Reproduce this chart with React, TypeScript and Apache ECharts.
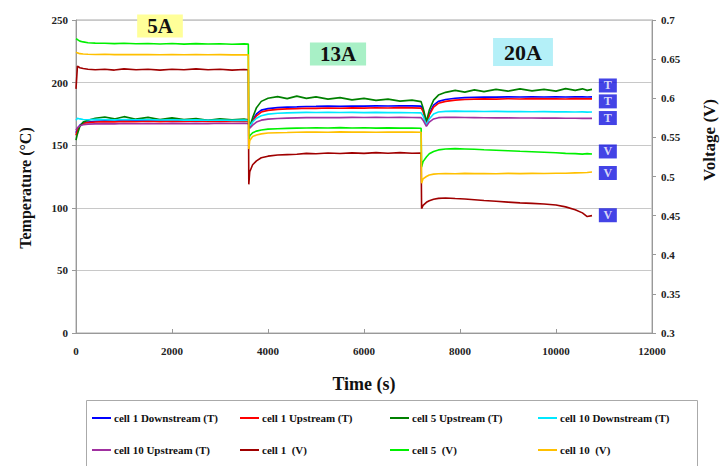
import React, { useEffect, useRef } from "react";
import * as echarts from "echarts";

// ---------- data ----------
const timeS = [
  0, 30, 80, 150, 250, 400, 600, 800, 1000, 1250,
  1500, 1750, 2000, 2250, 2500, 2750, 3000, 3250, 3500, 3590,
  3600, 3620, 3680, 3760, 3860, 4000, 4200, 4400, 4600, 4800,
  5000, 5250, 5500, 5750, 6000, 6250, 6500, 6750, 7000, 7190,
  7200, 7230, 7300, 7360, 7450, 7550, 7700, 7900, 8100, 8300,
  8500, 8750, 9000, 9250, 9500, 9750, 10000, 10200, 10400, 10550,
  10650, 10750,
];

const cell1DownT = [
  160, 163, 166, 168, 168.5, 169, 169.5, 169.2, 169.8, 169.4,
  169.9, 169.5, 170, 169.6, 170, 169.7, 170.1, 169.8, 170, 169.8,
  168, 164.5, 170, 175, 178, 179.2, 180, 180.4, 180.6, 180.9,
  181, 181.2, 181, 181.3, 181.2, 181.4, 181.3, 181.5, 181.4, 181.2,
  180.5, 178.5, 167, 175, 182, 185, 186.5, 187.5, 188, 188.3,
  188.5, 188.4, 188.6, 188.5, 188.7, 188.5, 188.6, 188.5, 188.7, 188.6,
  188.5, 188.6,
];

const cell1UpT = [
  158, 162, 165.5, 167.5, 168, 168.5, 168.8, 168.6, 169, 168.7,
  169.1, 168.8, 169.2, 168.9, 169.3, 169, 169.2, 168.9, 169.2, 169,
  167.5, 164, 169, 173.5, 176.5, 177.8, 178.6, 179, 179.2, 179.5,
  179.4, 179.7, 179.5, 179.8, 179.6, 179.9, 179.7, 180, 179.8, 179.6,
  179, 177, 166.5, 174, 180.5, 183.5, 185, 186, 186.5, 186.8,
  187, 186.8, 187.1, 186.9, 187.2, 187, 187.1, 186.9, 187.2, 187,
  187.1, 187,
];

const cell5UpT = [
  154, 159, 165, 168.5, 170, 171.5, 172.5, 171, 172.8, 170.8,
  172.2, 170.5, 171.8, 170.4, 171.3, 169.8, 171, 170.2, 170.8, 170.2,
  168.5, 165, 172, 180, 185, 187.5, 188.8, 187.2, 189.2, 187.4,
  188.6, 186.8, 188, 186.2, 187.4, 185.8, 186.8, 185.2, 186, 184.8,
  183.5, 180, 169, 178, 186, 190, 192.2, 193.8, 192.4, 194.2,
  192.8, 194.6, 193.2, 195, 193.4, 194.6, 193.2, 195.2, 193.8, 195,
  193.8, 194.6,
];

const cell10DownT = [
  170, 171.5, 171, 170.5, 170.3, 170.6, 170.4, 170.2, 170.5, 170.3,
  170.4, 170.1, 170.3, 170, 170.2, 169.9, 170.1, 169.8, 170, 169.8,
  168, 165, 168.5, 171.5, 173.5, 174.8, 175.5, 175.8, 176, 176.2,
  176.1, 176.3, 176.1, 176.2, 176, 176.2, 176, 176.1, 175.9, 175.8,
  175.2, 173.5, 166, 171, 175, 176.5, 177, 177.2, 177, 177.1,
  176.9, 177, 176.8, 176.9, 176.7, 176.8, 176.6, 176.7, 176.5, 176.6,
  176.4, 176.5,
];

const cell10UpT = [
  162, 164, 165.5, 166.3, 166.8, 167, 167.2, 167, 167.3, 167.1,
  167.3, 167.1, 167.4, 167.2, 167.4, 167.2, 167.5, 167.3, 167.5, 167.3,
  166, 163.5, 166, 168.5, 170, 170.8, 171.3, 171.6, 171.8, 172,
  172, 172.1, 172, 172.2, 172.1, 172.2, 172.1, 172.2, 172.1, 172,
  171.5, 170, 165, 168.5, 171, 172, 172.3, 172.2, 172.1, 172,
  171.9, 171.8, 171.8, 171.7, 171.7, 171.6, 171.6, 171.5, 171.5, 171.4,
  171.4, 171.4,
];

const cell1V = [
  0.612, 0.641, 0.639, 0.638, 0.637, 0.6365, 0.637, 0.636, 0.6375, 0.6365,
  0.637, 0.636, 0.637, 0.6365, 0.6375, 0.6365, 0.637, 0.636, 0.6368, 0.6365,
  0.49, 0.506, 0.515, 0.52, 0.524, 0.526, 0.5275, 0.528, 0.5285, 0.5295,
  0.529, 0.53, 0.5293, 0.5302, 0.5295, 0.5305, 0.5297, 0.5305, 0.5298, 0.53,
  0.459, 0.463, 0.467, 0.469, 0.471, 0.472, 0.4725, 0.4718, 0.4712, 0.4703,
  0.4693, 0.4683, 0.4673, 0.4663, 0.4657, 0.4648, 0.4636, 0.4612, 0.4575, 0.4535,
  0.4488, 0.45,
];

const cell5V = [
  0.676, 0.675, 0.673, 0.672, 0.671, 0.6705, 0.6702, 0.6698, 0.6703, 0.6696,
  0.67, 0.6694, 0.6699, 0.6692, 0.6698, 0.6693, 0.6697, 0.669, 0.6695, 0.6692,
  0.547, 0.552, 0.556, 0.558, 0.5595, 0.5605, 0.561, 0.5615, 0.5618, 0.562,
  0.5622, 0.562, 0.5625, 0.562, 0.5623, 0.5618, 0.5622, 0.5618, 0.562, 0.5617,
  0.512, 0.519, 0.525, 0.529, 0.532, 0.534, 0.5352, 0.5356, 0.5352, 0.5348,
  0.5342, 0.5336, 0.533, 0.5322, 0.5316, 0.531, 0.5303, 0.5296, 0.5292, 0.5286,
  0.5292, 0.5288,
];

const cell10V = [
  0.659, 0.658, 0.657, 0.6565, 0.6562, 0.656, 0.6562, 0.6558, 0.656, 0.6557,
  0.656, 0.6556, 0.6559, 0.6555, 0.6558, 0.6555, 0.6557, 0.6554, 0.6556, 0.6554,
  0.535, 0.546, 0.551, 0.553, 0.5545, 0.5555, 0.556, 0.5562, 0.5565, 0.5567,
  0.5568, 0.5566, 0.557, 0.5567, 0.5569, 0.5566, 0.5569, 0.5567, 0.5568, 0.5566,
  0.4915, 0.497, 0.5, 0.502, 0.503, 0.5035, 0.5038, 0.5036, 0.504, 0.5037,
  0.5039, 0.5036, 0.504, 0.5037, 0.504, 0.5038, 0.5042, 0.5042, 0.5046, 0.5048,
  0.5052, 0.5058,
];

const markerX = 11080;
const markerT = [197.7, 185, 171.7];
const markerV = [0.532, 0.5045, 0.4505];

const currentLabels = ["5A", "13A", "20A"];

const SERIF = "'Liberation Serif', 'Times New Roman', serif";

const seriesDefs = [
  { name: "cell 1 Downstream (T)", data: cell1DownT, color: "#0000ff", axis: 0 },
  { name: "cell 1 Upstream (T)", data: cell1UpT, color: "#ff0000", axis: 0 },
  { name: "cell 5 Upstream (T)", data: cell5UpT, color: "#008000", axis: 0 },
  { name: "cell 10 Downstream (T)", data: cell10DownT, color: "#00e8ff", axis: 0 },
  { name: "cell 10 Upstream (T)", data: cell10UpT, color: "#a030a0", axis: 0 },
  { name: "cell 1  (V)", data: cell1V, color: "#a00000", axis: 1 },
  { name: "cell 5  (V)", data: cell5V, color: "#00f000", axis: 1 },
  { name: "cell 10  (V)", data: cell10V, color: "#ffc000", axis: 1 },
];

export default function App() {
  const ref = useRef<HTMLDivElement>(null);

  useEffect(() => {
    const chart = echarts.init(ref.current!, null, { renderer: "svg" });

    const lineSeries = seriesDefs.map((s) => ({
      name: s.name,
      type: "line",
      yAxisIndex: s.axis,
      symbol: "none",
      data: timeS.map((t, i) => [t, s.data[i]]),
      lineStyle: { color: s.color, width: 1.6 },
      itemStyle: { color: s.color },
      z: 2,
    }));

    const markerStyle = (letter: string) => ({
      type: "scatter",
      symbol: "rect",
      symbolSize: [18, 14],
      itemStyle: { color: "#1414e0" },
      label: {
        show: true,
        position: "inside",
        formatter: letter,
        color: "#ffffff",
        fontFamily: SERIF,
        fontWeight: "bold",
        fontSize: 12,
      },
      silent: true,
      z: 5,
    });

    const col = (i: number) => [seriesDefs[i].name, seriesDefs[i + 4].name];
    const legendCols = [92, 240, 390, 538].map((x, i) => ({
      orient: "vertical",
      left: x,
      top: 411,
      padding: 0,
      itemGap: 18,
      itemWidth: 19,
      itemHeight: 2,
      icon: "rect",
      data: col(i),
      textStyle: {
        fontFamily: SERIF,
        fontWeight: "bold",
        fontSize: 11,
        color: "#111",
        lineHeight: 14,
        padding: [0, 0, 0, -2],
      },
    }));

    const axisLabelStyle = {
      fontFamily: SERIF,
      fontWeight: "bold",
      fontSize: 11,
      color: "#222",
    };

    const boxText = (
      text: string,
      x: number,
      y: number,
      bg: string,
      size: number,
      pad: number[]
    ) => ({
      type: "text",
      x,
      y,
      z: 10,
      style: {
        text,
        fill: "#111",
        font: `bold ${size}px ${SERIF}`,
        backgroundColor: bg,
        padding: pad,
        align: "center",
        verticalAlign: "middle",
      },
    });

    chart.setOption({
      animation: false,
      textStyle: { fontFamily: SERIF },
      grid: {
        left: 76,
        right: 68,
        top: 20,
        bottom: 133,
        show: true,
        borderColor: "#a8a8a8",
        borderWidth: 1,
      },
      legend: legendCols,
      xAxis: {
        type: "value",
        min: 0,
        max: 12000,
        interval: 2000,
        axisLine: { show: true, lineStyle: { color: "#999" } },
        axisTick: { show: true, inside: true, length: 4, lineStyle: { color: "#999" } },
        axisLabel: { ...axisLabelStyle, margin: 12, formatter: (v: number) => String(v) },
        splitLine: { show: false },
        name: "Time (s)",
        nameLocation: "middle",
        nameGap: 42,
        nameTextStyle: { fontFamily: SERIF, fontWeight: "bold", fontSize: 18, color: "#111" },
      },
      yAxis: [
        {
          type: "value",
          min: 0,
          max: 250,
          interval: 50,
          position: "left",
          axisLine: { show: true, lineStyle: { color: "#999" } },
          axisTick: { show: true, length: 4, lineStyle: { color: "#999" } },
          axisLabel: { ...axisLabelStyle, margin: 8 },
          splitLine: { show: true, lineStyle: { color: "#c8c8c8", width: 1 } },
        },
        {
          type: "value",
          min: 0.3,
          max: 0.7,
          interval: 0.05,
          position: "right",
          axisLine: { show: true, lineStyle: { color: "#999" } },
          axisTick: { show: true, length: 4, lineStyle: { color: "#999" } },
          axisLabel: {
            ...axisLabelStyle,
            margin: 9,
            formatter: (v: number) => String(+v.toFixed(2)),
          },
          splitLine: { show: false },
        },
      ],
      series: [
        ...lineSeries,
        { ...markerStyle("T"), name: "markerT", yAxisIndex: 0, data: markerT.map((v) => [markerX, v]) },
        { ...markerStyle("V"), name: "markerV", yAxisIndex: 1, data: markerV.map((v) => [markerX, v]) },
      ],
      graphic: [
        {
          type: "text",
          x: 25,
          y: 188,
          rotation: Math.PI / 2,
          style: {
            text: "Temperature (°C)",
            font: `bold 16px ${SERIF}`,
            fill: "#111",
            align: "center",
            verticalAlign: "middle",
          },
        },
        {
          type: "text",
          x: 709,
          y: 140,
          rotation: Math.PI / 2,
          style: {
            text: "Voltage (V)",
            font: `bold 17px ${SERIF}`,
            fill: "#111",
            align: "center",
            verticalAlign: "middle",
          },
        },
        boxText(currentLabels[0], 160, 26, "#ffff99", 21, [1, 10, 1, 10]),
        boxText(currentLabels[1], 338, 54, "#a8f0c6", 21, [1, 10, 1, 10]),
        boxText(currentLabels[2], 523, 52, "#b4f0f8", 22, [3, 11, 3, 11]),
        {
          type: "rect",
          shape: { x: 86.5, y: 400.5, width: 611, height: 80 },
          style: { fill: "none", stroke: "#aaaaaa", lineWidth: 1 },
          silent: true,
        },
      ],
    });

    return () => chart.dispose();
  }, []);

  return (
    <div
      ref={ref}
      style={{ position: "absolute", left: 0, top: 0, width: 720, height: 466 }}
    />
  );
}
